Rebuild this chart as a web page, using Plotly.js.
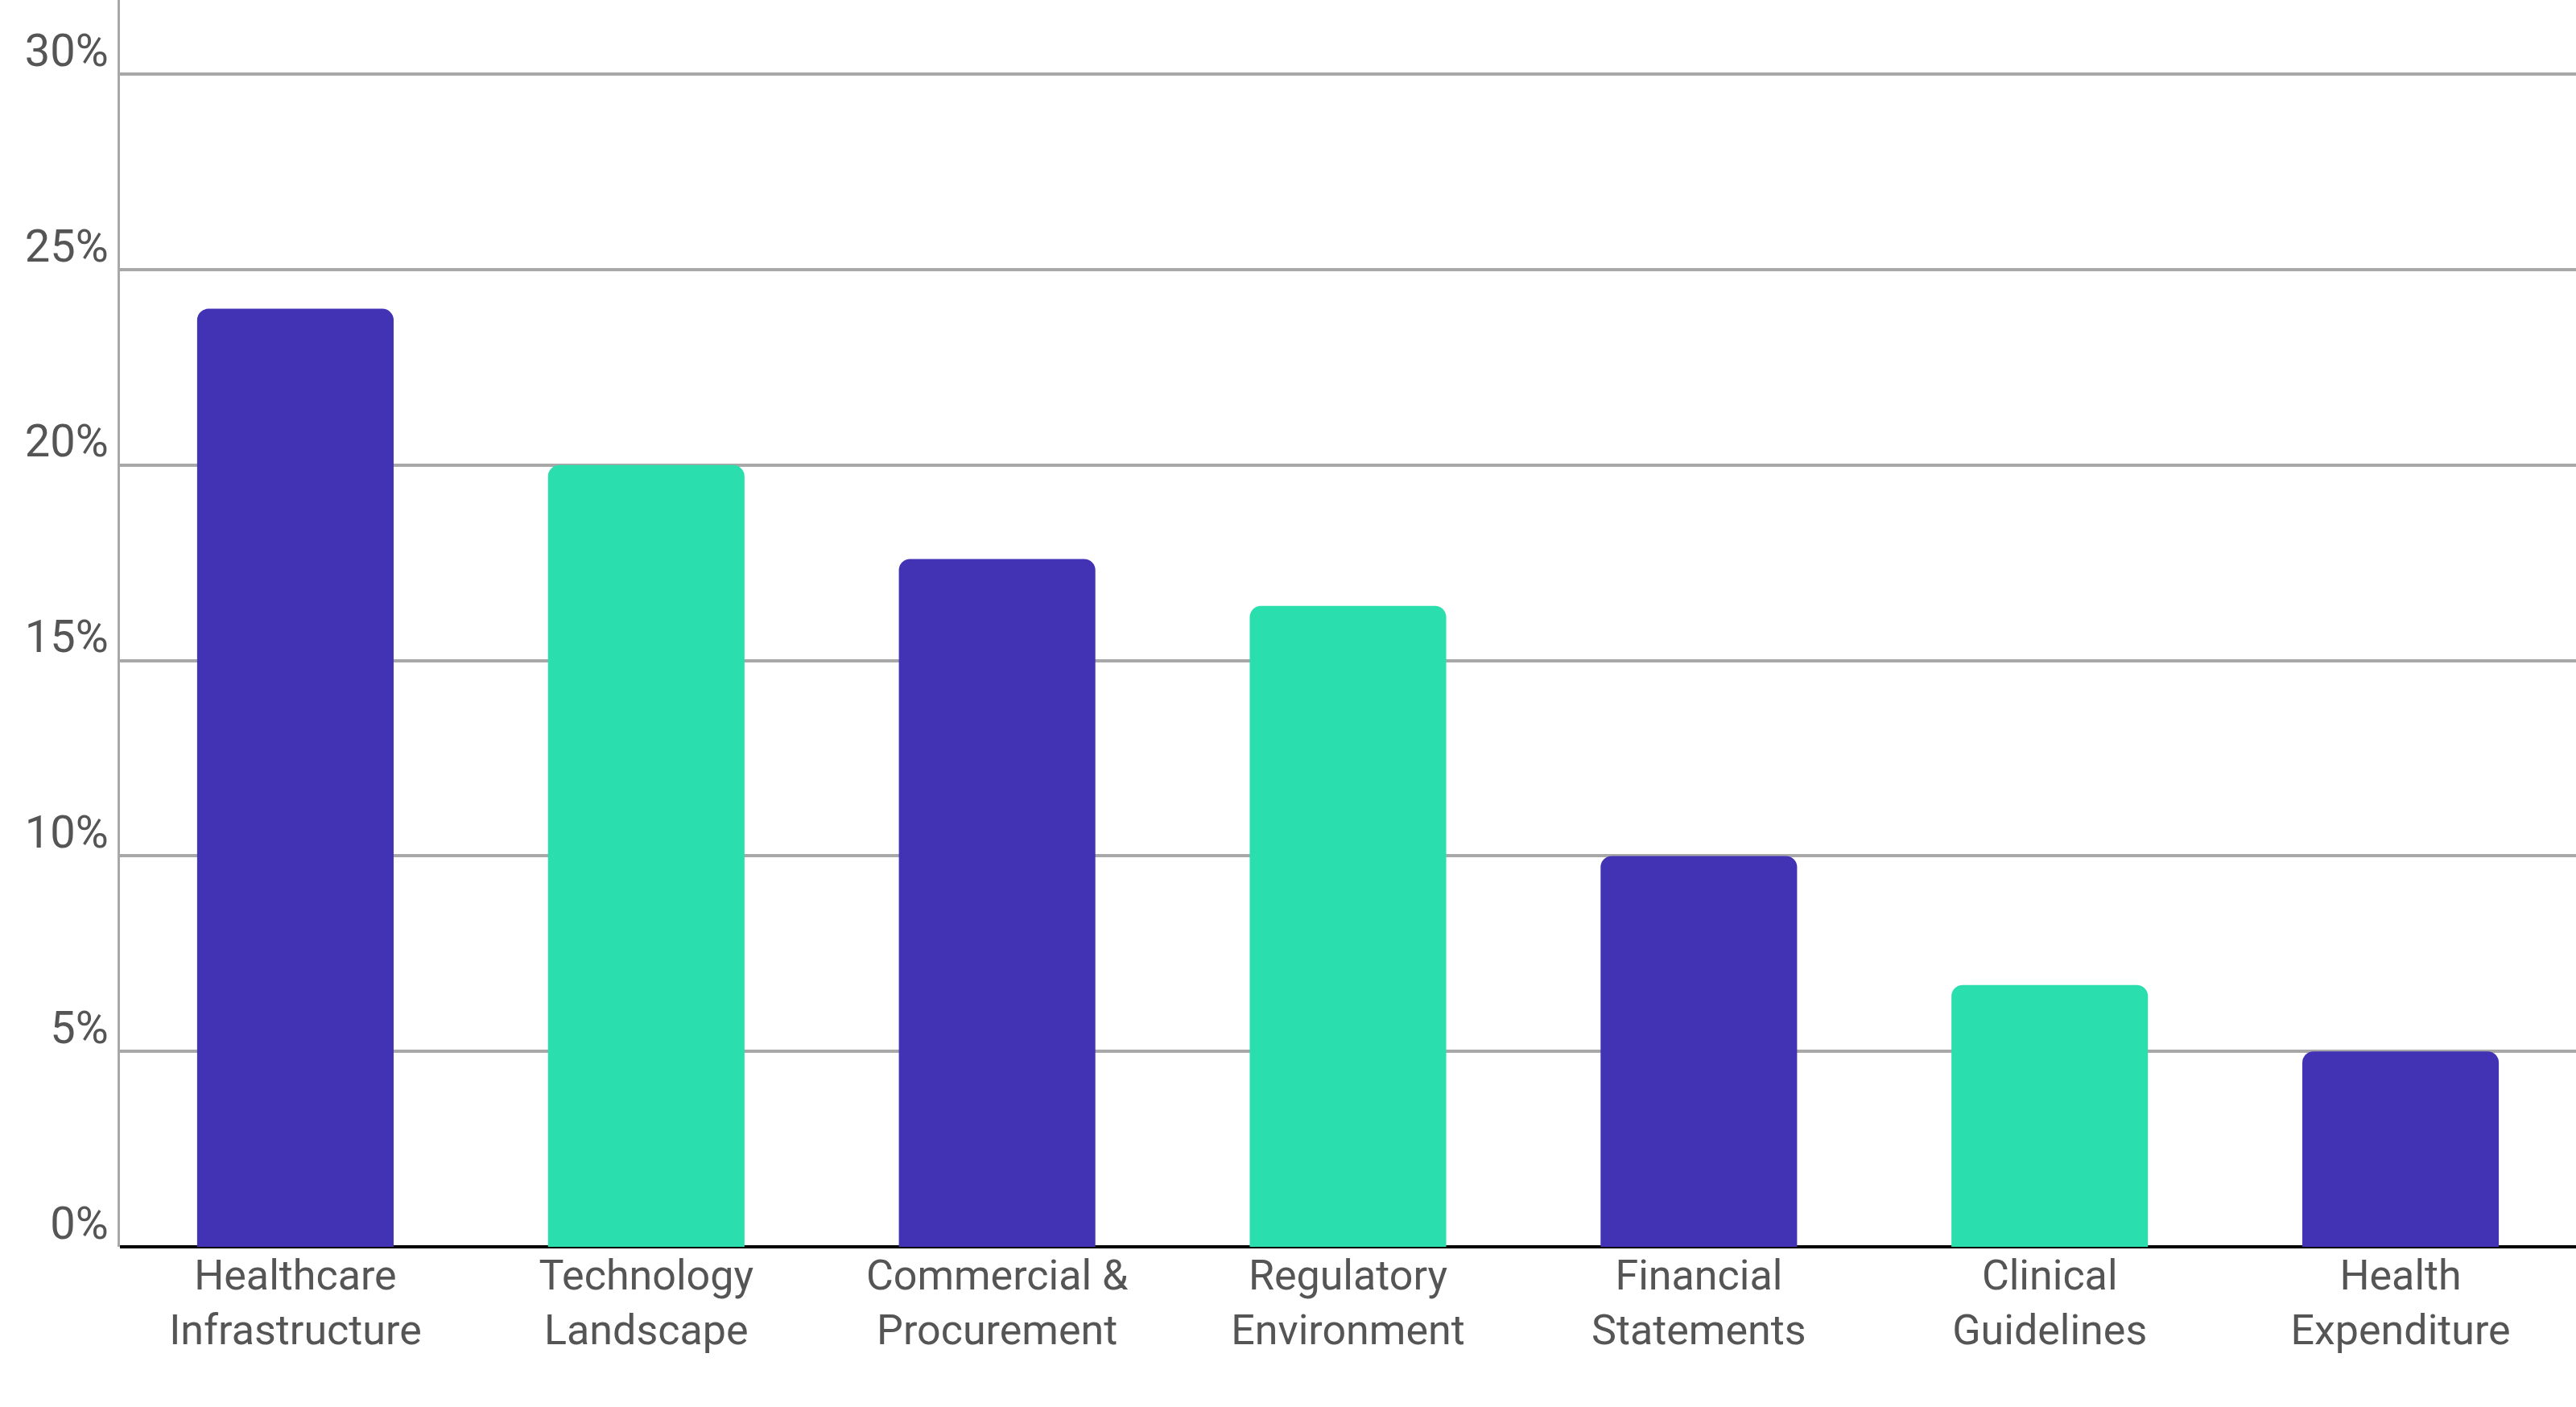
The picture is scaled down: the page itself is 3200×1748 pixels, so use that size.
<!DOCTYPE html>
<html>
<head>
<meta charset="utf-8">
<script src="https://cdn.plot.ly/plotly-3.0.1.min.js"></script>
<style>html,body{margin:0;padding:0;background:#fff}#chart{width:3200px;height:1748px}</style>
</head>
<body>
<div id="chart"></div>
<script>
// categories and shares (percent)
var categories = ['Healthcare<br>Infrastructure', 'Technology<br>Landscape', 'Commercial &<br>Procurement',
                  'Regulatory<br>Environment', 'Financial<br>Statements', 'Clinical<br>Guidelines', 'Health<br>Expenditure'];
var shares = [24, 20, 17.6, 16.4, 10, 6.7, 5];
var barColors = ['#4232B4', '#2ADFAD', '#4232B4', '#2ADFAD', '#4232B4', '#2ADFAD', '#4232B4'];
var tickVals = [0, 5, 10, 15, 20, 25, 30];
var tickText = ['0%', '5%', '10%', '15%', '20%', '25%', '30%'];

var data = [{
  type: 'bar',
  x: categories,
  y: shares,
  width: 0.56,
  marker: {color: barColors},
  hoverinfo: 'x+y'
}];

var layout = {
  width: 3200, height: 1748,
  margin: {l: 149, r: 0, t: 0, b: 199},
  paper_bgcolor: '#fff', plot_bgcolor: '#fff',
  barcornerradius: 14,
  font: {family: 'Roboto, sans-serif', color: '#555', size: 52},
  showlegend: false,
  xaxis: {
    tickfont: {size: 52, color: '#555'},
    ticks: '', showgrid: false, showline: false
  },
  yaxis: {
    range: [0, 31.9],
    tickvals: tickVals, ticktext: tickText,
    tickfont: {size: 56, color: '#555'},
    ticklabelshift: -30,
    showgrid: true, gridcolor: '#a8a8a8', gridwidth: 4,
    zeroline: true, zerolinecolor: '#000', zerolinewidth: 4,
    showline: true, linecolor: '#a8a8a8', linewidth: 3,
    ticks: ''
  }
};

Plotly.newPlot('chart', data, layout, {displayModeBar: false, staticPlot: true});
</script>
</body>
</html>
